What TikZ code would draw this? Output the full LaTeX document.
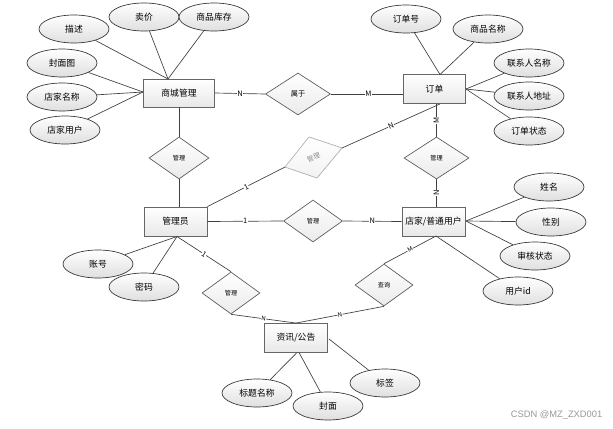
\documentclass[tikz,border=0pt]{standalone}
\usepackage{fontspec}
\newfontfamily\cjk{Noto Sans CJK SC}
\usetikzlibrary{shapes.geometric,calc}
\begin{document}
\begin{tikzpicture}[x=0.75pt,y=-0.75pt,
 ent/.style={draw=black!60, line width=0.65pt, top color=white, bottom color=gray!18, minimum width=47.25pt, minimum height=21.75pt, inner sep=0pt, font=\cjk\fontsize{6.6}{7}\selectfont},
 attr/.style={ellipse, draw=black!80, line width=0.5pt, top color=white, bottom color=gray!25, minimum width=52.5pt, minimum height=21pt, inner sep=0pt, font=\cjk\fontsize{6.6}{7}\selectfont},
 rel/.style={diamond, draw=black!65, line width=0.5pt, top color=white, bottom color=gray!16, minimum width=43.5pt, minimum height=31.5pt, inner sep=0pt, font=\cjk\fontsize{4.6}{5}\selectfont},
 conn/.style={draw=black!75, line width=0.5pt},
 card/.style={fill=white, inner sep=0.3pt, font=\cjk\fontsize{5.6}{6}\selectfont},
]
\fill[white] (0,0) rectangle (613,428);
\useasboundingbox (0,0) rectangle (613,428);

% entities
\node[ent, minimum width=53.25pt, minimum height=21pt] (sc) at (179,93) {商城管理};
\node[ent, minimum width=46.5pt] (dd) at (434.5,89) {订单};
\node[ent] (gly) at (175.5,221.5) {管理员};
\node[ent] (dj) at (433.5,221.5) {店家/普通用户};
\node[ent] (zx) at (296,338) {资讯/公告};

% relationships
\node[rel, minimum width=48.75pt, font=\cjk\fontsize{5.4}{6}\selectfont] (r1) at (298,94) {属于};
\node[rel, minimum width=45pt] (r2) at (179,158) {管理};
\node[rel, minimum width=48.75pt] (r4) at (436.5,158) {管理};
\node[rel, minimum width=44.25pt] (r5) at (313,221) {管理};
\node[rel] (r6) at (231,293) {管理};
\node[rel] (r7) at (384,285) {查询};

% skewed gray diamond
\coordinate (r3t) at (309,137);
\coordinate (r3r) at (342,148);
\coordinate (r3b) at (317,178);
\coordinate (r3l) at (285,167);
\filldraw[draw=black!28, line width=0.5pt, top color=white, bottom color=gray!10] (r3t) -- (r3r) -- (r3b) -- (r3l) -- cycle;
\node[text=black!45, rotate=20, font=\cjk\fontsize{5}{6}\selectfont] (r3) at (313.5,157.5) {管理};

% attributes of 商城管理
\node[attr] (a1) at (74,29) {描述};
\node[attr] (a2) at (144,17) {卖价};
\node[attr] (a3) at (214,17) {商品库存};
\node[attr] (a4) at (62,63) {封面图};
\node[attr] (a5) at (62,97) {店家名称};
\node[attr] (a6) at (65,130) {店家用户};
\coordinate (scT) at (168,79);
\coordinate (scL) at (143,92);
\draw[conn] (a1) -- (scT);
\draw[conn] (a2) -- (scT);
\draw[conn] (a3) -- (scT);
\draw[conn] (a4) -- (scL);
\draw[conn] (a5) -- (scL);
\draw[conn] (a6) -- (scL);

% attributes of 订单
\node[attr] (b1) at (406,19) {订单号};
\node[attr] (b2) at (488,29) {商品名称};
\node[attr] (b3) at (529,63) {联系人名称};
\node[attr] (b4) at (529,96) {联系人地址};
\node[attr] (b5) at (529,131) {订单状态};
\coordinate (ddT) at (440,74.5);
\coordinate (ddR) at (466,89);
\draw[conn] (b1) -- (ddT);
\draw[conn] (b2) -- (ddT);
\draw[conn] (b3) -- (ddR);
\draw[conn] (b4) -- (ddR);
\draw[conn] (b5) -- (ddR);

% attributes of 店家/普通用户
\node[attr] (c1) at (549,187) {姓名};
\node[attr] (c2) at (551,222) {性别};
\node[attr] (c3) at (535,256) {审核状态};
\node[attr] (c4) at (518,291) {用户id};
\coordinate (djR) at (466,221);
\coordinate (djB) at (436,236);
\draw[conn] (c1) -- (djR);
\draw[conn] (c2) -- (djR);
\draw[conn] (c3) -- (djR);
\draw[conn] (c4) -- (djB);

% attributes of 管理员
\node[attr] (d1) at (98,264) {账号};
\node[attr] (d2) at (144,287) {密码};
\coordinate (glyB) at (177,236.5);
\draw[conn] (d1) -- (glyB);
\draw[conn] (d2) -- (glyB);

% attributes of 资讯/公告
\node[attr] (e1) at (257,393) {标题名称};
\node[attr] (e2) at (328,406) {封面};
\node[attr] (e3) at (385,383) {标签};
\coordinate (zxB1) at (297,352.5);
\coordinate (zxB2) at (299,352.5);
\coordinate (zxR) at (329,339);
\draw[conn] (e1) -- (zxB1);
\draw[conn] (e2) -- (zxB2);
\draw[conn] (e3) -- (zxR);

% relationship connectors
\draw[conn] (sc.east) -- node[card] {N} (r1.west);
\draw[conn] (r1.east) -- node[card, pos=0.52] {M} (r1.east -| dd.west);
\draw[conn] (sc.south) -- (r2.north);
\draw[conn] (r2.south) -- (r2.south |- gly.north);
\draw[conn] (gly.east) -- node[card] {1} (r5.west);
\draw[conn] (r5.east) -- node[card] {N} (dj.west);
\draw[conn] (r4.north) -- node[card, rotate=90] {M} (r4.north |- dd.south);
\draw[conn] (r4.south) -- node[card, rotate=90] {N} (r4.south |- dj.north);
\draw[conn] (glyB) -- node[card, sloped] {1} (r6.north);
\draw[conn] (gly.north east) -- node[card, sloped] {1} (r3l);
\draw[conn] (r3r) -- node[card, sloped] {N} (ddT |- dd.south);
\draw[conn] (r6.south) -- node[card, sloped, font=\cjk\fontsize{4.6}{5}\selectfont] {N} (zx.north);
\draw[conn] (zx.north) -- node[card, sloped, font=\cjk\fontsize{4.6}{5}\selectfont] {N} (r7.south);
\draw[conn] (djB) -- node[card, sloped, font=\cjk\fontsize{4.6}{5}\selectfont] {M} (r7.north);

% watermark
\node[anchor=east, text=black!40, font=\fontspec{Liberation Sans}\fontsize{7}{8}\selectfont] (wm) at (607,415) {CSDN @MZ\_ZXD001};
\end{tikzpicture}
\end{document}
